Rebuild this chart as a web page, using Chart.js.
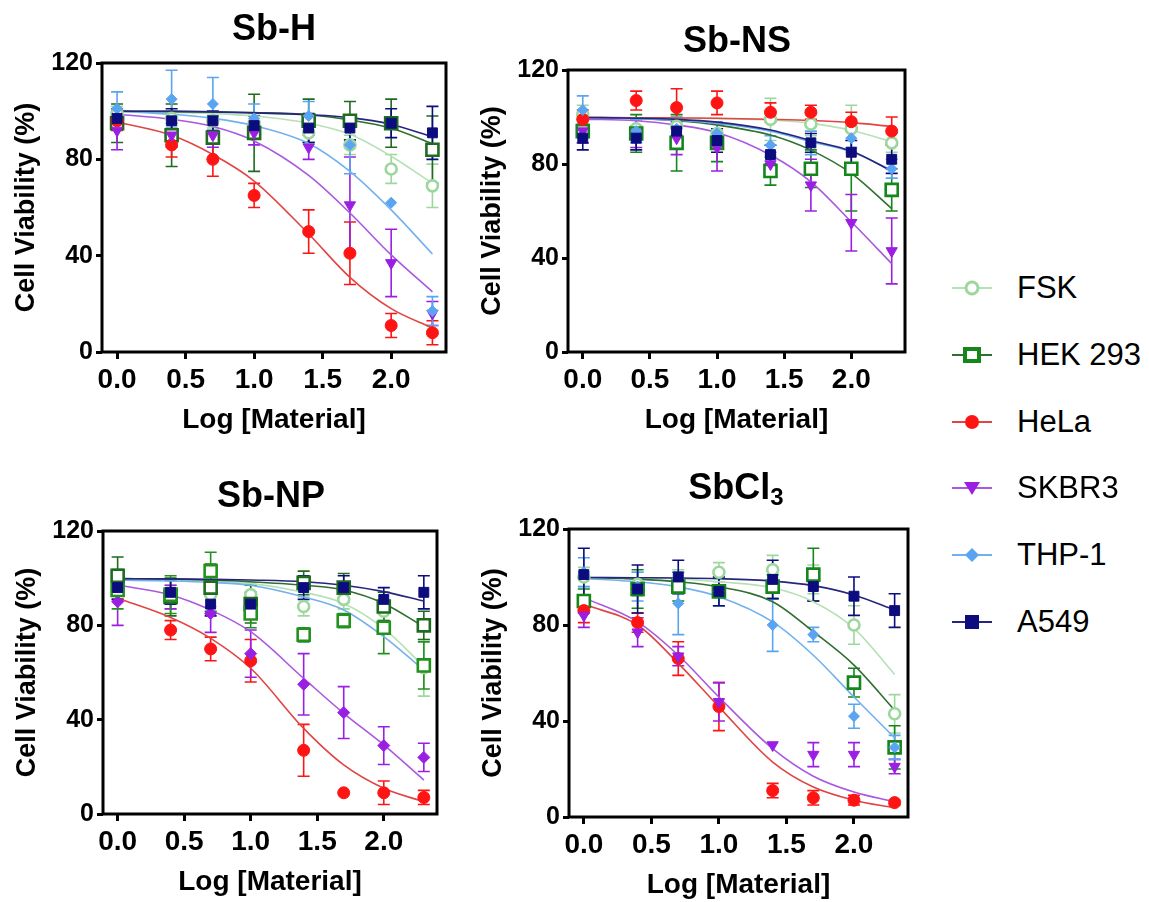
<!DOCTYPE html>
<html lang="en">
<head>
<meta charset="UTF-8">
<title>Cell Viability</title>
<script src="https://cdn.jsdelivr.net/npm/chart.js"></script>
<style>
    body {
        margin: 0;
        background: #fff;
        font-family: "Liberation Sans", Arial, sans-serif;
    }

    #page {
        position: relative;
        width: 1149px;
        height: 902px;
        overflow: hidden;
    }

    canvas {
        position: absolute;
    }

    .title {
        position: absolute;
        font-weight: bold;
        font-size: 36px;
        transform: translate(-50%, -50%);
        white-space: nowrap;
    }

    .title sub {
        font-size: 24px;
        vertical-align: -6px;
    }

    .legend-row {
        position: absolute;
        left: 950px;
        height: 40px;
        display: flex;
        align-items: center;
        font-size: 31px;
        white-space: nowrap;
        transform: translateY(-50%);
    }

    .legend-row svg {
        margin-right: 23px;
    }
</style>
</head>
<body>
<div id="page"></div>

<script>
    // x positions: log10 of 1, 2.5, 5, 10, 25, 50, 100, 200
    const xLog = [0, 0.398, 0.699, 1, 1.398, 1.699, 2, 2.301];
    const xTicks = [0, 0.5, 1, 1.5, 2];
    const yTicks = [0, 40, 80, 120];
    const cellLines = ['FSK', 'HEK 293', 'HeLa', 'SKBR3', 'THP-1', 'A549'];

    // rows follow cellLines
    const sbH_mean = [
        [99, 97, 96, 95, 91, 86, 76, 69],
        [95, 90, 89, 91, 96, 96, 95, 84],
        [96, 86, 80, 65, 50, 41, 11, 8],
        [92, 90, 90, 91, 85, 61, 37, 16],
        [101, 105, 103, 97, 98, 86, 62, 17],
        [97, 96, 96, 94, 93, 93, 95, 91]
    ];
    const sbH_err = [
        [3, 3, 3, 4, 4, 4, 6, 9],
        [8, 13, 9, 16, 9, 8, 10, 14],
        [4, 5, 7, 5, 9, 13, 5, 5],
        [8, 5, 5, 5, 5, 20, 14, 5],
        [7, 12, 11, 6, 6, 12, 0, 6],
        [4, 5, 4, 4, 6, 5, 6, 11]
    ];
    const sbH_fit = [
        [99.8, 99.4, 99, 98, 95, 90.4, 81.3, 70],
        [100, 99.9, 99.7, 99.4, 98.5, 96.3, 92.9, 86.5],
        [95.5, 90, 82, 71, 49, 31, 18, 10],
        [98.7, 96.6, 93.6, 87.6, 73.3, 57.7, 40.3, 25],
        [100, 98.7, 97, 94, 86.6, 75, 59, 40.7],
        [100, 99.9, 99.7, 99.3, 98.5, 97.3, 94.5, 89.4]
    ];

    const sbNS_mean = [
        [101, 95, 96, 93, 99, 97, 95, 89],
        [94, 93, 89, 89, 77, 78, 78, 69],
        [99, 107, 104, 106, 102, 102, 98, 94],
        [94, 93, 91, 87, 80, 71, 55, 43],
        [103, 94, 95, 93, 88, 89, 91, 78],
        [91, 91, 94, 90, 84, 89, 85, 82]
    ];
    const sbNS_err = [
        [4, 4, 4, 4, 9, 5, 10, 4],
        [5, 8, 12, 8, 6, 8, 18, 9],
        [4, 4, 8, 5, 4, 3, 4, 6],
        [5, 6, 7, 10, 5, 11, 12, 14],
        [6, 5, 5, 5, 4, 5, 4, 4],
        [5, 5, 5, 5, 4, 4, 5, 6]
    ];
    const sbNS_fit = [
        [99.8, 99.7, 99.5, 99.3, 98.7, 97.3, 94.4, 89.5],
        [99.8, 99.4, 98.4, 96.6, 92.3, 85.9, 76, 61],
        [99.8, 99.7, 99.6, 99.5, 99, 98.5, 97.6, 96],
        [99.1, 98.4, 96.6, 93.4, 83.8, 72.4, 55.4, 37.6],
        [99.7, 99.3, 98.6, 97.3, 94, 89.5, 85.2, 77.4],
        [99.8, 99.5, 99, 97.8, 94.5, 90, 85.5, 77]
    ];

    const sbNP_mean = [
        [100, 92, 93, 93, 88, 91, 86, 62],
        [101, 92, 96, 89, 98, 96, 88, 80],
        [95, 78, 70, 65, 27, 9, 9, 7],
        [90, 92, 85, 68, 55, 43, 29, 24],
        [95, 93, 103, 85, 76, 82, 79, 63],
        [96, 94, 89, 89, 96, 96, 91, 94]
    ];
    const sbNP_err = [
        [4, 5, 5, 5, 4, 4, 4, 12],
        [8, 8, 10, 8, 5, 6, 6, 6],
        [4, 4, 5, 9, 11, 0, 5, 3],
        [10, 5, 8, 10, 13, 11, 8, 6],
        [8, 8, 8, 6, 3, 3, 11, 10],
        [5, 5, 5, 5, 5, 5, 5, 7]
    ];
    const sbNP_fit = [
        [99.6, 99.3, 98.8, 97.8, 94, 89.3, 78.7, 62.5],
        [99.8, 99.6, 99.2, 98.5, 97, 95, 89.3, 79.4],
        [91.5, 83.3, 74.5, 61.8, 36.3, 20.8, 10.9, 5.2],
        [97.1, 92.9, 86.5, 77.3, 57.5, 42.7, 29.3, 14.4],
        [99.2, 98.8, 98.2, 97, 92, 86.5, 75.2, 61],
        [99.8, 99.7, 99.5, 99.2, 98.5, 97, 94.3, 90.3]
    ];

    const sbCl3_mean = [
        [100, 97, 98, 102, 103, 99, 80, 43],
        [90, 95, 96, 94, 96, 101, 56, 29],
        [86, 81, 66, 46, 11, 8, 7, 6],
        [84, 77, 67, 48, 30, 26, 26, 21],
        [102, 96, 89, 94, 80, 76, 42, 29],
        [101, 95, 100, 94, 99, 96, 92, 86]
    ];
    const sbCl3_err = [
        [4, 5, 5, 4, 6, 6, 8, 8],
        [5, 8, 6, 6, 5, 11, 6, 9],
        [5, 4, 7, 10, 3, 3, 2, 1],
        [5, 6, 4, 8, 0, 5, 5, 3],
        [6, 6, 13, 6, 11, 3, 5, 5],
        [11, 10, 7, 6, 8, 6, 8, 7]
    ];
    const sbCl3_fit = [
        [99.8, 99.6, 99.2, 98, 95.5, 89.7, 78.6, 59.4],
        [99.8, 99.1, 98, 95.9, 89.7, 77.2, 63.3, 44.5],
        [88.6, 80, 64, 45.9, 22.9, 12.5, 7, 3.8],
        [91.4, 81.3, 67.4, 50, 28.5, 17, 10.4, 6.3],
        [99.4, 98, 95.9, 91.8, 81.3, 67.4, 50, 33],
        [99.8, 99.7, 99.6, 99.3, 98.3, 96.4, 92.5, 86.2]
    ];

    const FONT = '"Liberation Sans", Arial, sans-serif';
    const AXIS_W = 102;   // room left of plot for ticks + title
    const AXIS_H = 88;    // room under plot
    const PAD_T = 20;
    const PAD_R = 14;

    const hekDark = '#1f6b1f';
    const seriesStyle = [
        { color: '#9dd79d', line: '#b6e1b6', shape: 'circle', r: 5.5, open: true },
        { color: '#14861a', line: '#2f6f2f', shape: 'rect', r: 8.5, open: true },
        { color: '#ff1414', line: '#e04444', shape: 'circle', r: 6 },
        { color: '#9a1fe3', line: '#a958e0', shape: 'triangle', r: 6.5, rot: 180 },
        { color: '#5aa4f1', line: '#72b1ee', shape: 'rectRot', r: 5.5 },
        { color: '#0c0c7f', line: '#25257f', shape: 'rect', r: 7 }
    ];

    const panels = [
        { title: 'Sb-H', titlePos: [274, 28], box: [102, 63, 446, 352],
          mean: sbH_mean, err: sbH_err, fit: sbH_fit,
          over: { 1: { color: hekDark } } },
        { title: 'Sb-NS', titlePos: [737, 40], box: [568, 70, 905, 352],
          mean: sbNS_mean, err: sbNS_err, fit: sbNS_fit, over: {} },
        { title: 'Sb-NP', titlePos: [271, 495], box: [103, 531, 437, 814],
          mean: sbNP_mean, err: sbNP_err, fit: sbNP_fit,
          over: { 1: { color: hekDark }, 3: { shape: 'rectRot', rot: 0, r: 6 },
                  4: { color: '#22921f', shape: 'rect', r: 8.5, open: true } } },
        { title: 'SbCl<sub>3</sub>', titlePos: [736, 488], box: [569, 529, 908, 817],
          mean: sbCl3_mean, err: sbCl3_err, fit: sbCl3_fit, over: {} }
    ];

    const errorBars = {
        id: 'errorBars',
        beforeDatasetsDraw(chart) {
            const ctx = chart.ctx;
            const ys = chart.scales.y;
            chart.data.datasets.forEach((ds, i) => {
                if (!ds.errors) return;
                const meta = chart.getDatasetMeta(i);
                ctx.save();
                ctx.strokeStyle = ds.errColor;
                ctx.lineWidth = 1.6;
                meta.data.forEach((pt, k) => {
                    const e = ds.errors[k];
                    if (!e) return;
                    const v = ds.data[k].y;
                    const y1 = ys.getPixelForValue(v + e);
                    const y2 = ys.getPixelForValue(v - e);
                    ctx.beginPath();
                    ctx.moveTo(pt.x, y1); ctx.lineTo(pt.x, y2);
                    ctx.moveTo(pt.x - 6, y1); ctx.lineTo(pt.x + 6, y1);
                    ctx.moveTo(pt.x - 6, y2); ctx.lineTo(pt.x + 6, y2);
                    ctx.stroke();
                });
                ctx.restore();
            });
        }
    };

    const frame = {
        id: 'frame',
        afterDraw(chart) {
            const a = chart.chartArea;
            const ctx = chart.ctx;
            ctx.save();
            ctx.strokeStyle = '#000';
            ctx.lineWidth = 3;
            ctx.strokeRect(a.left, a.top, a.right - a.left, a.bottom - a.top);
            ctx.restore();
        }
    };

    function styleFor(i, over) {
        return Object.assign({}, seriesStyle[i], over[i] || {});
    }

    function buildDatasets(p) {
        const sets = [];
        cellLines.forEach((name, i) => {
            const s = styleFor(i, p.over);
            sets.push({
                type: 'scatter',
                label: name,
                data: xLog.map((x, k) => ({ x: x, y: p.mean[i][k] })),
                errors: p.err[i],
                errColor: s.color,
                showLine: false,
                pointStyle: s.shape,
                pointRotation: s.rot || 0,
                pointRadius: s.r,
                pointHoverRadius: s.r,
                pointBackgroundColor: s.open ? '#fff' : s.color,
                pointBorderColor: s.color,
                pointBorderWidth: s.open ? 2.6 : 1,
                // later cell lines sit on top, like the original plot
                order: cellLines.length - i
            });
        });
        cellLines.forEach((name, i) => {
            sets.push({
                type: 'line',
                label: name + ' fit',
                data: xLog.map((x, k) => ({ x: x, y: p.fit[i][k] })),
                borderColor: seriesStyle[i].line,
                borderWidth: 1.6,
                pointRadius: 0,
                cubicInterpolationMode: 'monotone',
                fill: false,
                order: 20 - i
            });
        });
        return sets;
    }

    function makePanel(p) {
        const page = document.getElementById('page');
        const left = p.box[0] - AXIS_W;
        const top = p.box[1] - PAD_T;
        const w = p.box[2] - left + PAD_R;
        const h = p.box[3] - top + AXIS_H;

        const canvas = document.createElement('canvas');
        canvas.width = w;
        canvas.height = h;
        canvas.style.left = left + 'px';
        canvas.style.top = top + 'px';
        page.appendChild(canvas);

        const t = document.createElement('div');
        t.className = 'title';
        t.innerHTML = p.title;
        t.style.left = p.titlePos[0] + 'px';
        t.style.top = p.titlePos[1] + 'px';
        page.appendChild(t);

        new Chart(canvas, {
            type: 'scatter',
            data: { datasets: buildDatasets(p) },
            options: {
                responsive: false,
                animation: false,
                events: [],
                layout: { padding: { top: PAD_T, right: PAD_R, left: 0, bottom: 0 } },
                plugins: { legend: { display: false }, tooltip: { enabled: false } },
                scales: {
                    x: {
                        type: 'linear',
                        min: -0.11,
                        max: 2.4,
                        afterBuildTicks: s => { s.ticks = xTicks.map(v => ({ value: v })); },
                        afterFit: s => { s.height = AXIS_H; },
                        border: { display: false },
                        grid: { drawOnChartArea: false, tickLength: 7, tickWidth: 3, tickColor: '#000' },
                        ticks: {
                            color: '#000', padding: 4, maxRotation: 0, autoSkip: false,
                            font: { family: FONT, size: 28, weight: 'bold' },
                            callback: v => v.toFixed(1)
                        },
                        title: {
                            display: true, text: 'Log [Material]', color: '#000',
                            font: { family: FONT, size: 28, weight: 'bold' },
                            padding: { top: 3, bottom: 3 }
                        }
                    },
                    y: {
                        min: 0,
                        max: 120,
                        afterBuildTicks: s => { s.ticks = yTicks.map(v => ({ value: v })); },
                        afterFit: s => { s.width = AXIS_W; },
                        border: { display: false },
                        grid: { drawOnChartArea: false, tickLength: 6, tickWidth: 3, tickColor: '#000' },
                        ticks: {
                            color: '#000', padding: 3,
                            font: { family: FONT, size: 25, weight: 'bold' }
                        },
                        title: {
                            display: true, text: 'Cell Viability (%)', color: '#000',
                            font: { family: FONT, size: 27, weight: 'bold' },
                            padding: { top: 10, bottom: 0 }
                        }
                    }
                }
            },
            plugins: [errorBars, frame]
        });
    }

    panels.forEach(makePanel);

    // shared legend on the right
    function legendSymbol(i) {
        const s = seriesStyle[i];
        const c = s.color;
        let mark = '';
        if (s.shape === 'circle' && s.open) {
            mark = `<circle cx="22" cy="20" r="6" fill="#fff" stroke="${c}" stroke-width="3"/>`;
        } else if (s.shape === 'circle') {
            mark = `<circle cx="22" cy="20" r="7" fill="${c}"/>`;
        } else if (s.shape === 'rect' && s.open) {
            mark = `<rect x="15" y="14" width="14" height="12" fill="#fff" stroke="${c}" stroke-width="4"/>`;
        } else if (s.shape === 'rect') {
            mark = `<rect x="15" y="13" width="14" height="14" fill="${c}"/>`;
        } else if (s.shape === 'triangle') {
            mark = `<polygon points="14,14 30,14 22,27" fill="${c}"/>`;
        } else {
            mark = `<polygon points="22,13 29,20 22,27 15,20" fill="${c}"/>`;
        }
        return `<svg width="44" height="40"><line x1="2" y1="20" x2="42" y2="20" stroke="${s.line}" stroke-width="2"/>${mark}</svg>`;
    }

    cellLines.forEach((name, i) => {
        const row = document.createElement('div');
        row.className = 'legend-row';
        row.style.top = (288 + i * 66.8) + 'px';
        row.innerHTML = legendSymbol(i) + '<span></span>';
        row.querySelector('span').textContent = name;
        document.getElementById('page').appendChild(row);
    });
</script>
</body>
</html>
